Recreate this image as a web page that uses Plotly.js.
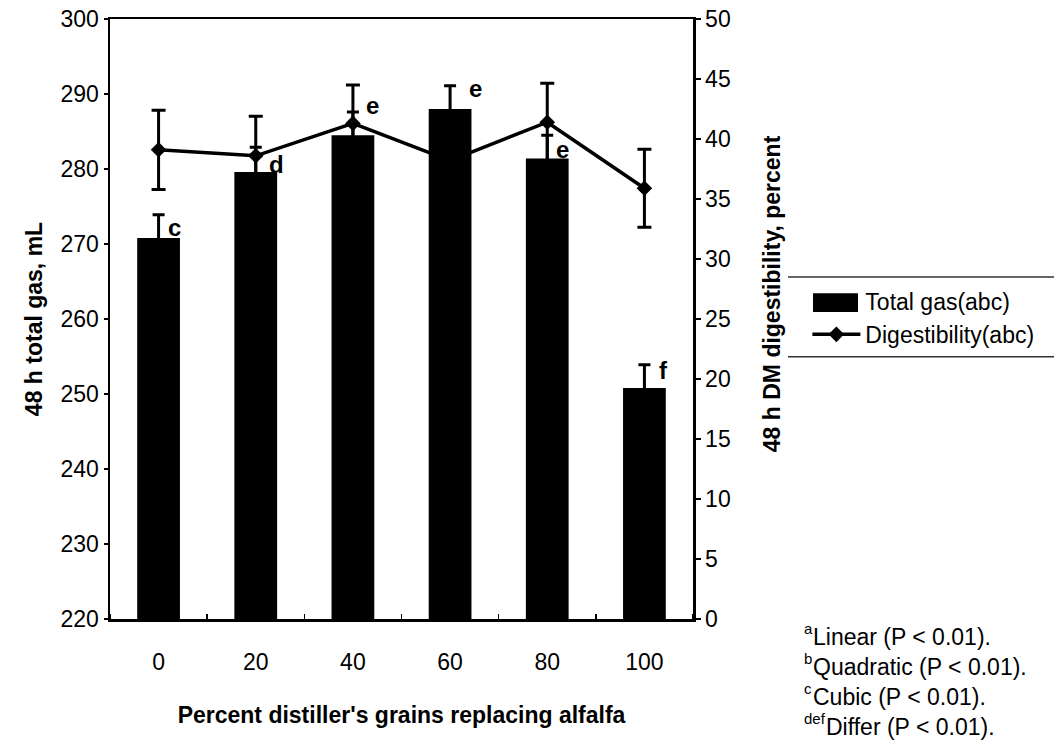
<!DOCTYPE html>
<html>
<head>
<meta charset="utf-8">
<script src="https://cdn.plot.ly/plotly-3.0.1.min.js"></script>
<style>
  html, body { margin: 0; padding: 0; background: #ffffff; }
  #chart { width: 1054px; height: 751px; }
</style>
</head>
<body>
<div id="chart"></div>
<script>
// ---- data ----
const categories = [0, 20, 40, 60, 80, 100];   // percent distiller's grains
const totalGas = [270.8, 279.6, 284.5, 288.0, 281.4, 250.8];
const totalGasSE = [3.1, 3.3, 3.1, 3.1, 3.1, 3.1];
const digestibility = [39.1, 38.6, 41.3, 38.2, 41.4, 35.9];
const digestibilitySE = [3.3, 3.3, 3.2, 3.2, 3.25, 3.25];
const letters = ["c", "d", "e", "e", "e", "f"];
const gasTicks = [220, 230, 240, 250, 260, 270, 280, 290, 300];
const digTicks = [0, 5, 10, 15, 20, 25, 30, 35, 40, 45, 50];
const footMarks = ["a", "b", "c", "def"];
const footTexts = ["Linear (P < 0.01).", "Quadratic (P < 0.01).", "Cubic (P < 0.01).", "Differ (P < 0.01)."];
const seriesNames = ["Total gas(abc)", "Digestibility(abc)"];

// ---- presentation ----
const FONT = "Liberation Sans, Arial, Helvetica, sans-serif";
const step = categories[1] - categories[0];

const traces = [
  {
    type: "bar",
    name: seriesNames[0],
    x: categories,
    y: totalGas,
    marker: { color: "#000000", line: { width: 0 } },
    error_y: { type: "data", array: totalGasSE, symmetric: true, visible: true,
               color: "#000000", thickness: 3, width: 6 },
    xaxis: "x", yaxis: "y"
  },
  {
    type: "scatter",
    mode: "lines+markers",
    name: seriesNames[1],
    x: categories,
    y: digestibility,
    line: { color: "#000000", width: 3.5 },
    marker: { symbol: "diamond", size: 12, color: "#000000" },
    error_y: { type: "data", array: digestibilitySE, symmetric: true, visible: true,
               color: "#000000", thickness: 3, width: 7 },
    xaxis: "x", yaxis: "y2"
  }
];

// per-letter nudges (pixels) relative to the bar top
const letterShift = [-5, -8, 14, 5, -6, 2];
const letterXShift = [16, 21, 20, 25, 15, 19];

const annotations = [];
letters.forEach((L, i) => {
  annotations.push({
    x: categories[i], y: totalGas[i], xref: "x", yref: "y",
    text: L, showarrow: false, xanchor: "center", yanchor: "bottom",
    xshift: letterXShift[i], yshift: letterShift[i],
    font: { family: FONT, size: 24, color: "#000", weight: "bold" }
  });
});

// right axis title
annotations.push({
  xref: "paper", yref: "paper", x: 1.1355, y: 0.543,
  text: "48 h DM digestibility, percent", textangle: -90, showarrow: false,
  xanchor: "center", yanchor: "middle",
  font: { family: FONT, size: 23, color: "#000", weight: "bold" }
});

// footnotes: superscript marks drawn as their own small texts
const SUP = 15;
const ctx = document.createElement("canvas").getContext("2d");
ctx.font = SUP + "px 'Liberation Sans', Arial, sans-serif";
const footYpx = [637, 667, 697, 727];
const footX0 = 803;
const plotL = 110, plotW = 583, plotB = 619.3, plotH = 600.8;
footTexts.forEach((t, i) => {
  const supW = ctx.measureText(footMarks[i]).width;
  annotations.push({
    xref: "paper", yref: "paper",
    x: (footX0 - plotL) / plotW, y: (plotB - footYpx[i] + 8) / plotH,
    text: footMarks[i], showarrow: false, xanchor: "left", yanchor: "middle",
    borderpad: 0, font: { family: FONT, size: SUP, color: "#000" }
  });
  annotations.push({
    xref: "paper", yref: "paper",
    x: (footX0 + supW + 1 - plotL) / plotW, y: (plotB - footYpx[i]) / plotH,
    text: t.replace(/</g, "&lt;"), showarrow: false, xanchor: "left", yanchor: "middle",
    borderpad: 0, font: { family: FONT, size: 23, color: "#000" }
  });
});

const layout = {
  width: 1054, height: 751,
  margin: { l: 110, r: 361, t: 19, b: 132 },
  paper_bgcolor: "#ffffff", plot_bgcolor: "#ffffff",
  font: { family: FONT, size: 23, color: "#000000" },
  bargap: 0.56,
  showlegend: true,
  legend: {
    xref: "container", yref: "container",
    x: 0.766, y: 1 - 280 / 751, xanchor: "left", yanchor: "top",
    bgcolor: "rgba(0,0,0,0)", borderwidth: 0,
    font: { family: FONT, size: 23, color: "#000" },
    itemwidth: 48, tracegroupgap: 0
  },
  xaxis: {
    type: "linear",
    range: [categories[0] - step / 2, categories[categories.length - 1] + step / 2],
    tickvals: categories, ticktext: categories.map(String),
    showline: true, linecolor: "#000", linewidth: 2.5, mirror: true,
    ticks: "", ticklabelstandoff: 21,
    minor: { ticks: "inside", tick0: categories[0] - step / 2, dtick: step,
             ticklen: 5, tickcolor: "#000", tickwidth: 1.5, showgrid: false },
    showgrid: false, zeroline: false,
    tickfont: { family: FONT, size: 23 },
    title: { text: "Percent distiller's grains replacing alfalfa", standoff: 33,
             font: { family: FONT, size: 23, weight: "bold" } }
  },
  yaxis: {
    range: [220, 300], tickvals: gasTicks, ticktext: gasTicks.map(String),
    showline: true, linecolor: "#000", linewidth: 2.5,
    ticks: "outside", ticklen: 4, tickcolor: "#000", tickwidth: 1.5,
    showgrid: false, zeroline: false,
    tickfont: { family: FONT, size: 23 },
    title: { text: "48 h total gas, mL", standoff: 12,
             font: { family: FONT, size: 23, weight: "bold" } }
  },
  yaxis2: {
    overlaying: "y", side: "right",
    range: [0, 50], tickvals: digTicks, ticktext: digTicks.map(String),
    showline: true, linecolor: "#000", linewidth: 2.5,
    ticks: "outside", ticklen: 5, tickcolor: "#000", tickwidth: 1.5,
    showgrid: false, zeroline: false,
    tickfont: { family: FONT, size: 23 }
  },
  shapes: [
    { type: "line", xref: "paper", yref: "paper", x0: 1.163, x1: 1.62, y0: 0.570, y1: 0.570,
      line: { color: "#333", width: 1.5 } },
    { type: "line", xref: "paper", yref: "paper", x0: 1.163, x1: 1.62, y0: 0.437, y1: 0.437,
      line: { color: "#333", width: 1.5 } },
    // widened legend swatch for the bar series (reference draws a wide block)
    { type: "rect", xref: "paper", yref: "paper",
      x0: (813 - plotL) / plotW, x1: (858 - plotL) / plotW,
      y0: (plotB - 312) / plotH, y1: (plotB - 293) / plotH,
      fillcolor: "#000", line: { width: 0 } }
  ],
  annotations: annotations
};

Plotly.newPlot("chart", traces, layout, { displayModeBar: false, staticPlot: true });
</script>
</body>
</html>
